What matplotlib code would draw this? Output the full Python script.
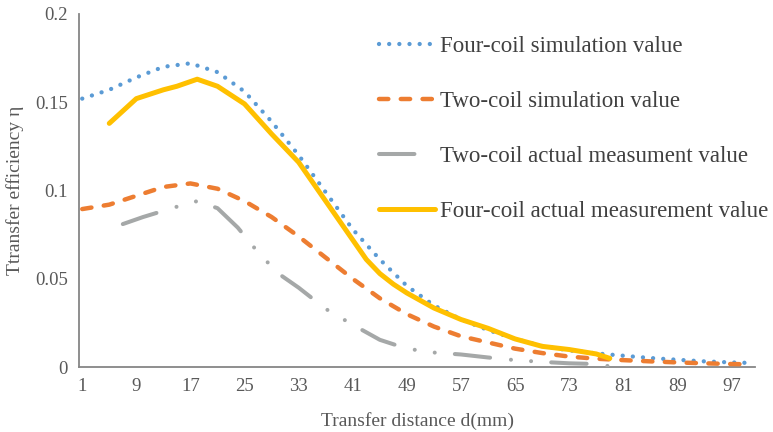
# %%
import matplotlib.pyplot as plt
from matplotlib.ticker import FuncFormatter

plt.rcParams["font.family"] = ["Liberation Serif", "DejaVu Serif"]

# %% data
dist = [1, 5, 9, 13, 17, 21, 25, 29, 33, 37, 41, 45, 49, 53, 57, 61, 65, 69, 73, 77, 81, 85, 89, 93, 97, 100]
four_sim = [0.152, 0.157, 0.164, 0.170, 0.172, 0.167, 0.156, 0.139, 0.120, 0.099, 0.078, 0.061, 0.046,
            0.035, 0.027, 0.021, 0.016, 0.012, 0.0095, 0.0078, 0.0065, 0.0052, 0.0042, 0.0033, 0.0027, 0.0024]
two_sim = [0.0895, 0.092, 0.097, 0.102, 0.104, 0.101, 0.094, 0.085, 0.074, 0.062, 0.050, 0.039, 0.030,
           0.023, 0.0175, 0.014, 0.0105, 0.008, 0.006, 0.0048, 0.004, 0.0033, 0.0027, 0.0022, 0.0018, 0.0016]

dist_two_meas = [7, 10, 13, 16, 18, 21, 24, 27, 30, 33, 37, 41, 45, 49, 53, 57, 61, 65, 69, 73, 77, 79]
two_meas = [0.081, 0.085, 0.0885, 0.092, 0.094, 0.090, 0.079, 0.065, 0.053, 0.045, 0.033, 0.024, 0.0155,
            0.0105, 0.0083, 0.0072, 0.0055, 0.004, 0.003, 0.0022, 0.0018, 0.0005]

dist_four_meas = [5, 9, 13, 15, 18, 21, 25, 29, 33, 37, 41, 43, 45, 47, 49, 53, 57, 61, 65, 69, 73, 77, 79]
four_meas = [0.138, 0.152, 0.157, 0.159, 0.163, 0.159, 0.149, 0.132, 0.116, 0.094, 0.072, 0.061, 0.053,
             0.047, 0.042, 0.0335, 0.027, 0.022, 0.016, 0.0118, 0.0100, 0.0075, 0.005]

xticks = list(range(1, 98, 8))
yticks = [0, 0.05, 0.1, 0.15, 0.2]

# %% plot
fig = plt.figure(figsize=(7.73, 4.32), dpi=100)
ax = fig.add_axes([0.102, 0.150, 0.875, 0.818])

ax.plot(dist, four_sim, color="#5B9BD5", lw=3.1, linestyle=(0, (0.01, 2.35)),
        dash_capstyle="round", label="Four-coil simulation value", zorder=3)
ax.plot(dist, two_sim, color="#ED7D31", lw=3.2, linestyle=(0, (2.1, 2.8)),
        dash_capstyle="round", label="Two-coil simulation value", zorder=3)
ax.plot(dist_two_meas, two_meas, color="#A5A8A8", lw=2.9,
        linestyle=(0, (8.8, 5.2, 0.01, 5.0, 0.01, 5.0)), dash_capstyle="round",
        label="Two-coil actual measument value", zorder=3)
ax.plot(dist_four_meas, four_meas, color="#FFC000", lw=3.6, solid_capstyle="round",
        label="Four-coil actual measurement value", zorder=4)

ax.set_xlim(0.5, 100.5)
ax.set_ylim(0, 0.2)
ax.set_xticks(xticks)
ax.set_yticks(yticks)
ax.yaxis.set_major_formatter(FuncFormatter(lambda v, p: f"{v:g}"))
ax.tick_params(length=0, labelsize=13.5, colors="#595959", pad=8)
ax.spines[["top", "right"]].set_visible(False)
ax.spines[["left", "bottom"]].set_color("#868686")
ax.spines[["left", "bottom"]].set_linewidth(1.3)

ax.set_xlabel("Transfer distance d(mm)", fontsize=14, color="#595959", labelpad=12)
ax.set_ylabel("Ttransfer efficiency η", fontsize=14, color="#595959", labelpad=8)

leg = ax.legend(loc="upper left", bbox_to_anchor=(0.437, 0.95), frameon=False, fontsize=16.5,
                handlelength=2.45, handletextpad=0.2, labelspacing=1.48, borderaxespad=0, borderpad=0.2)
for t in leg.get_texts():
    t.set_color("#404040")

fig.savefig("out.png", dpi=100)
